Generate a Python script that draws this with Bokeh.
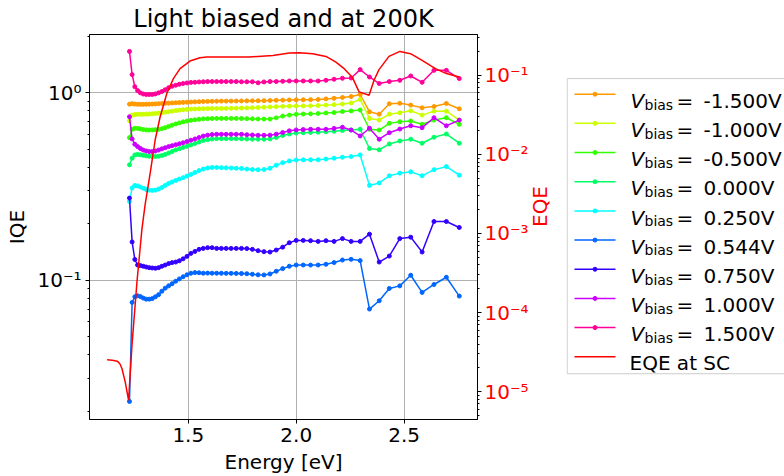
import math
from bokeh.plotting import figure
from bokeh.models import Range1d, LogScale, LogAxis, FixedTicker, NumeralTickFormatter, CustomJSTickFormatter
from bokeh.layouts import row
from bokeh.embed import file_html
from bokeh.resources import INLINE
from bokeh.core.properties import value

FONT = "DejaVu Sans"

# ---------------- data ----------------
energy = [1.2276, 1.2398, 1.2524, 1.2651, 1.2782, 1.2915, 1.3051, 1.3190, 1.3332, 1.3477,
          1.3625, 1.3776, 1.3931, 1.4089, 1.4251, 1.4417, 1.4586, 1.4760, 1.4938, 1.5120,
          1.5307, 1.5498, 1.5694, 1.5895, 1.6102, 1.6314, 1.6531, 1.6755, 1.6984, 1.7220,
          1.7463, 1.7712, 1.7969, 1.8233, 1.8505, 1.8785, 1.9074, 1.9373, 1.9680, 1.9998,
          2.0325, 2.0664, 2.1014, 2.1377, 2.1752, 2.2140, 2.2543, 2.2960, 2.3393, 2.3843,
          2.4311, 2.4797, 2.5303, 2.5830, 2.6380, 2.6953, 2.7552]

vbias = [-1.5, -1.0, -0.5, 0.0, 0.25, 0.544, 0.75, 1.0, 1.5]
colors = ["#ff9900", "#ccff00", "#33ff00", "#00ff66", "#00ffff",
          "#0066ff", "#3300ff", "#cc00ff", "#ff0099"]

iqe_m150 = [0.867, 0.872, 0.868, 0.866, 0.865, 0.865, 0.866, 0.867, 0.868, 0.870,
            0.872, 0.874, 0.876, 0.878, 0.880, 0.882, 0.884, 0.886, 0.888, 0.890,
            0.892, 0.894, 0.896, 0.897, 0.898, 0.899, 0.900, 0.900, 0.900, 0.901,
            0.902, 0.903, 0.903, 0.904, 0.905, 0.907, 0.909, 0.911, 0.913, 0.914,
            0.915, 0.916, 0.918, 0.925, 0.932, 0.941, 0.952, 0.976, 0.789, 0.767,
            0.871, 0.876, 0.857, 0.829, 0.842, 0.874, 0.819]
iqe_m100 = [0.707, 0.758, 0.763, 0.765, 0.766, 0.766, 0.767, 0.768, 0.770, 0.773,
            0.777, 0.781, 0.786, 0.791, 0.796, 0.801, 0.806, 0.810, 0.813, 0.816,
            0.818, 0.819, 0.820, 0.821, 0.822, 0.823, 0.823, 0.823, 0.824, 0.825,
            0.826, 0.828, 0.830, 0.832, 0.835, 0.838, 0.841, 0.844, 0.846, 0.848,
            0.849, 0.850, 0.852, 0.857, 0.862, 0.868, 0.880, 0.919, 0.728, 0.713,
            0.767, 0.780, 0.799, 0.758, 0.796, 0.796, 0.713]
iqe_m050 = [0.575, 0.637, 0.645, 0.644, 0.640, 0.635, 0.632, 0.631, 0.632, 0.634,
            0.637, 0.642, 0.650, 0.660, 0.670, 0.680, 0.689, 0.698, 0.705, 0.711,
            0.716, 0.720, 0.724, 0.726, 0.727, 0.728, 0.728, 0.728, 0.728, 0.728,
            0.727, 0.726, 0.724, 0.723, 0.722, 0.722, 0.733, 0.749, 0.758, 0.765,
            0.768, 0.770, 0.773, 0.778, 0.782, 0.792, 0.798, 0.807, 0.637, 0.631,
            0.685, 0.699, 0.705, 0.677, 0.713, 0.734, 0.677]
iqe_p000 = [0.412, 0.447, 0.465, 0.468, 0.466, 0.463, 0.460, 0.458, 0.456, 0.456,
            0.458, 0.462, 0.468, 0.476, 0.485, 0.494, 0.502, 0.510, 0.518, 0.526,
            0.535, 0.545, 0.555, 0.561, 0.565, 0.568, 0.568, 0.568, 0.568, 0.568,
            0.567, 0.565, 0.564, 0.564, 0.564, 0.566, 0.576, 0.590, 0.601, 0.608,
            0.611, 0.613, 0.615, 0.618, 0.622, 0.628, 0.632, 0.637, 0.503, 0.495,
            0.532, 0.552, 0.564, 0.537, 0.578, 0.601, 0.537]
iqe_p025 = [0.263, 0.310, 0.320, 0.318, 0.314, 0.309, 0.304, 0.302, 0.301, 0.302,
            0.306, 0.312, 0.320, 0.328, 0.334, 0.340, 0.346, 0.352, 0.359, 0.366,
            0.375, 0.384, 0.391, 0.396, 0.399, 0.399, 0.398, 0.397, 0.396, 0.395,
            0.394, 0.391, 0.389, 0.388, 0.389, 0.395, 0.410, 0.423, 0.432, 0.437,
            0.438, 0.438, 0.438, 0.442, 0.447, 0.452, 0.456, 0.465, 0.320, 0.330,
            0.360, 0.372, 0.378, 0.360, 0.388, 0.403, 0.363]
iqe_p054 = [0.0226, 0.0762, 0.0816, 0.0826, 0.0818, 0.0803, 0.0793, 0.0793, 0.0798, 0.0816,
            0.0838, 0.0874, 0.0907, 0.0933, 0.0958, 0.0988, 0.1016, 0.1043, 0.1069, 0.1089,
            0.1098, 0.1096, 0.1090, 0.1091, 0.1090, 0.1090, 0.1089, 0.1088, 0.1088, 0.1087,
            0.1086, 0.1083, 0.1076, 0.1069, 0.1067, 0.1080, 0.1116, 0.1153, 0.1187, 0.1205,
            0.1205, 0.1204, 0.1205, 0.1216, 0.1242, 0.1281, 0.1292, 0.1272, 0.0702, 0.0777,
            0.0904, 0.0933, 0.1063, 0.0861, 0.0949, 0.1037, 0.0823]
iqe_p075 = [0.274, 0.160, 0.129, 0.1205, 0.1197, 0.1187, 0.1176, 0.1167, 0.1162, 0.1158,
            0.1167, 0.1187, 0.1205, 0.1226, 0.1241, 0.1250, 0.1269, 0.1300, 0.1340, 0.1390,
            0.1424, 0.1460, 0.1478, 0.1491, 0.1491, 0.1478, 0.1478, 0.1478, 0.1478, 0.1478,
            0.1478, 0.1474, 0.1460, 0.1437, 0.1420, 0.1413, 0.1448, 0.1500, 0.1584, 0.1630,
            0.1630, 0.1624, 0.1610, 0.1624, 0.1610, 0.1666, 0.1610, 0.1610, 0.1760, 0.1250,
            0.1345, 0.1666, 0.1696, 0.1413, 0.2055, 0.2055, 0.1910]
iqe_p100 = [0.743, 0.566, 0.530, 0.515, 0.503, 0.494, 0.488, 0.485, 0.485, 0.488,
            0.494, 0.501, 0.508, 0.515, 0.521, 0.527, 0.533, 0.540, 0.548, 0.557,
            0.566, 0.576, 0.586, 0.593, 0.597, 0.599, 0.599, 0.599, 0.599, 0.599,
            0.599, 0.596, 0.594, 0.592, 0.592, 0.593, 0.600, 0.612, 0.625, 0.632,
            0.635, 0.637, 0.637, 0.637, 0.644, 0.653, 0.631, 0.587, 0.645, 0.564,
            0.611, 0.639, 0.665, 0.650, 0.734, 0.665, 0.713]
iqe_p150 = [1.656, 1.246, 1.074, 1.025, 0.996, 0.982, 0.976, 0.976, 0.977, 0.983,
            0.996, 1.013, 1.035, 1.061, 1.080, 1.094, 1.107, 1.117, 1.125, 1.132,
            1.134, 1.139, 1.141, 1.144, 1.144, 1.144, 1.144, 1.144, 1.144, 1.144,
            1.141, 1.141, 1.141, 1.127, 1.139, 1.144, 1.144, 1.148, 1.152, 1.152,
            1.152, 1.152, 1.152, 1.162, 1.177, 1.191, 1.195, 1.325, 1.210, 1.117,
            1.144, 1.162, 1.225, 1.134, 1.313, 1.313, 1.187]

iqe_series = [iqe_m150, iqe_m100, iqe_m050, iqe_p000, iqe_p025,
              iqe_p054, iqe_p075, iqe_p100, iqe_p150]

eqe_energy = [1.124, 1.148, 1.171, 1.183, 1.193, 1.208, 1.2235, 1.239, 1.262, 1.285,
              1.300, 1.3235, 1.3465, 1.3696, 1.4005, 1.431, 1.4618, 1.5078, 1.5539, 1.5848,
              1.65, 1.72, 1.784, 1.8917, 1.9687, 2.0147, 2.076, 2.1378, 2.1839, 2.2221,
              2.2604, 2.2912, 2.3373, 2.3603, 2.3834, 2.4295, 2.4802, 2.5295, 2.5829, 2.6447,
              2.6954, 2.7553]
eqe_sc = [2.53e-5, 2.50e-5, 2.43e-5, 2.25e-5, 1.95e-5, 1.32e-5, 7.78e-6, 3.82e-5, 2.40e-4, 1.12e-3,
          2.32e-3, 5.80e-3, 1.52e-2, 2.99e-2, 5.88e-2, 9.09e-2, 0.1214, 0.1514, 0.1669, 0.170,
          0.170, 0.170, 0.170, 0.1785, 0.1908, 0.1930, 0.1875, 0.1734, 0.1470, 0.1214,
          0.0936, 0.0617, 0.0560, 0.0865, 0.1180, 0.1734, 0.2004, 0.1875, 0.1544, 0.1214,
          0.1051, 0.0952]

x_ticks = [1.5, 2.0, 2.5]
iqe_ticks = [0.1, 1.0]
iqe_minor = [0.02, 0.03, 0.04, 0.05, 0.06, 0.07, 0.08, 0.09,
             0.2, 0.3, 0.4, 0.5, 0.6, 0.7, 0.8, 0.9, 2.0]
eqe_ticks = [1e-5, 1e-4, 1e-3, 1e-2, 1e-1]
eqe_minor = [m * d for d in [1e-6, 1e-5, 1e-4, 1e-3, 1e-2, 1e-1]
             for m in [2, 3, 4, 5, 6, 7, 8, 9]]

# ---------------- main figure ----------------
MAIN_W = 566
p = figure(width=MAIN_W, height=476,
           x_range=Range1d(1.0424, 2.8396),
           y_range=Range1d(0.01811, 2.038),
           y_axis_type="log",
           output_backend="svg", toolbar_location=None,
           min_border_left=89, min_border_right=MAIN_W - 479,
           min_border_top=34, min_border_bottom=55,
           title="Light biased and at 200K")
p.background_fill_color = "white"
p.border_fill_color = "white"
p.outline_line_color = "black"
p.outline_line_width = 1
p.outline_line_alpha = 1

p.title.text_font = FONT
p.title.text_font_size = "24px"
p.title.text_font_style = "normal"
p.title.align = "center"
p.title.text_color = "black"
p.title.standoff = 3

p.extra_y_ranges = {"eqe": Range1d(4.444e-6, 0.328)}
p.extra_y_scales = {"eqe": LogScale()}

sup_code = """
const sup = {"-": "\u207b", "0": "\u2070", "1": "\u00b9", "2": "\u00b2", "3": "\u00b3",
             "4": "\u2074", "5": "\u2075", "6": "\u2076", "7": "\u2077", "8": "\u2078", "9": "\u2079"};
const e = Math.round(Math.log10(tick));
return "10" + String(e).split("").map(c => sup[c]).join("");
"""

xt = FixedTicker(ticks=x_ticks)
p.xaxis.ticker = xt
p.xgrid.ticker = xt
p.xaxis.formatter = NumeralTickFormatter(format="0.0")
p.xaxis.axis_label = "Energy [eV]"

yt = FixedTicker(ticks=iqe_ticks, minor_ticks=iqe_minor)
p.yaxis.ticker = yt
p.ygrid.ticker = yt
p.yaxis.formatter = CustomJSTickFormatter(code=sup_code)
p.yaxis.axis_label = "IQE"

raxis = LogAxis(y_range_name="eqe",
                ticker=FixedTicker(ticks=eqe_ticks, minor_ticks=eqe_minor),
                formatter=CustomJSTickFormatter(code=sup_code),
                axis_label="EQE")
p.add_layout(raxis, "right")

for ax in [p.xaxis[0], p.yaxis[0], raxis]:
    ax.major_label_text_font = FONT
    ax.major_label_text_font_size = "20px"
    ax.major_label_text_color = "black"
    ax.axis_label_text_font = FONT
    ax.axis_label_text_font_size = "20px"
    ax.axis_label_text_font_style = "normal"
    ax.axis_label_text_color = "black"
    ax.major_tick_in = 0
    ax.major_tick_out = 4
    ax.minor_tick_in = 0
    ax.minor_tick_out = 2
    ax.axis_line_color = "black"
    ax.major_tick_line_color = "black"
    ax.minor_tick_line_color = "black"
    ax.major_label_standoff = 4
    ax.axis_label_standoff = 5
p.xaxis.minor_tick_line_color = None
raxis.major_label_standoff = 3
raxis.axis_label_standoff = 8
raxis.major_label_text_color = "red"
raxis.axis_label_text_color = "red"
raxis.axis_label_orientation = math.pi / 2

p.xgrid.grid_line_color = "#b0b0b0"
p.ygrid.grid_line_color = "#b0b0b0"
p.xgrid.grid_line_width = 1
p.ygrid.grid_line_width = 1

for vals, col in zip(iqe_series, colors):
    p.line(energy, vals, line_color=col, line_width=1.5)
    p.scatter(energy, vals, size=4, fill_color=col, line_color=col)

p.line(eqe_energy, eqe_sc, y_range_name="eqe", line_color="red", line_width=1.5)

# ---------------- legend panel (data units = page pixels) ----------------
q = figure(width=784 - MAIN_W, height=476, x_range=Range1d(MAIN_W, 784), y_range=Range1d(421, 34),
           output_backend="svg", toolbar_location=None,
           min_border_left=0, min_border_right=0, min_border_top=34, min_border_bottom=55,
           x_axis_type=None, y_axis_type=None)
q.outline_line_color = None
q.background_fill_color = "white"
q.border_fill_color = "white"
q.grid.grid_line_color = None

q.quad(left=[566.7], right=[800], top=[78.3], bottom=[375], fill_color="white",
       line_color="#cccccc", line_width=1)

row_h = 29.33
for i, (v, col) in enumerate(zip(vbias, colors)):
    yc = 94 + i * row_h
    q.line([574, 615], [yc, yc], line_color=col, line_width=1.5)
    q.scatter([594.5], [yc], size=4, fill_color=col, line_color=col)
    q.text([630], [yc + 6.7], text=["V"], text_font=value(FONT), text_font_size="20px",
           text_font_style="italic", text_baseline="alphabetic", text_color="black")
    q.text([644], [yc + 10.4], text=["bias"], text_font=value(FONT), text_font_size="14px",
           text_baseline="alphabetic", text_color="black")
    q.text([676], [yc + 6.7], text=["="], text_font=value(FONT), text_font_size="20px",
           text_baseline="alphabetic", text_color="black")
    q.text([703], [yc + 6.7], text=[f"{v:.3f}V"], text_font=value(FONT), text_font_size="20px",
           text_baseline="alphabetic", text_color="black")

yc = 94 + 9 * row_h
q.line([574, 615], [yc, yc], line_color="red", line_width=1.5)
q.text([629], [yc + 6.7], text=["EQE at SC"], text_font=value(FONT), text_font_size="20px",
       text_baseline="alphabetic", text_color="black")

layout = row(p, q)
open("out.html", "w").write(file_html(layout, INLINE))
